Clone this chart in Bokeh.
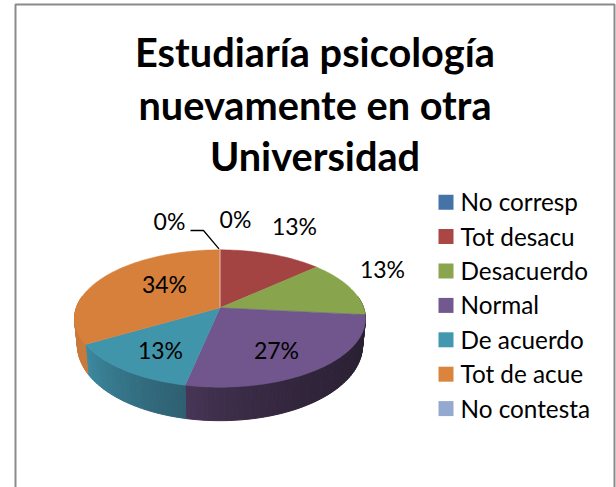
from math import cos, sin, pi
from bokeh.plotting import figure, ColumnDataSource
from bokeh.models import Range1d
from bokeh.core.properties import value
from bokeh.embed import file_html
from bokeh.resources import INLINE

# ---- data ----
title_lines = ["Estudiaría psicología", "nuevamente en otra", "Universidad"]
categories = ["No corresp", "Tot desacu", "Desacuerdo", "Normal", "De acuerdo", "Tot de acue", "No contesta"]
values = [0, 13.3, 13.3, 26.7, 13.3, 33.4, 0]
labels = ["0%", "13%", "13%", "27%", "13%", "34%", "0%"]

# ---- style ----
legend_colors = ["#4572A7", "#AA4643", "#89A54E", "#71588F", "#4198AF", "#DB843D", "#93A9CF"]
top_colors = ["#4572A7", "#A34342", "#88A44D", "#70568C", "#4095AB", "#D6803C", "#93A9CF"]
side_left = ["#33557C", "#7E3432", "#5F7336", "#4A3759", "#3D8DA4", "#C9793A", "#6C7E9A"]
side_right = ["#33557C", "#7E3432", "#46552A", "#2A2033", "#2E5F70", "#C9793A", "#6C7E9A"]
FONT = "Lato"
label_x = [235, 294, 382, 276, 160, 164, 169]
label_y = [218.5, 225.5, 268.5, 349.5, 349.5, 283.5, 220.5]

# ---- projection of the tilted disc, in page pixels ----
CX, CY, KX, KY, PERS = 219.5, 307.3, 143.7, 67.0, 0.156


def top_pt(deg):
    u, v = sin(deg * pi / 180), cos(deg * pi / 180)
    d = 1 + PERS * v
    return CX + KX * u / d, CY - KY * v / d


def bottom_pt(deg):
    u, v = sin(deg * pi / 180), cos(deg * pi / 180)
    d = 1 + PERS * v
    return CX + 0.98 * KX * u / d, CY - KY * v / d + (25.5 - 8 * v)


def hex_mix(a, b, t):
    ca = [int(a[i:i + 2], 16) for i in (1, 3, 5)]
    cb = [int(b[i:i + 2], 16) for i in (1, 3, 5)]
    return "#%02x%02x%02x" % tuple(round(x + (y - x) * t) for x, y in zip(ca, cb))


total = sum(values)
bounds = [0.0]
for val in values:
    bounds.append(bounds[-1] + val / total * 360)

p = figure(width=616, height=487, output_backend="svg", toolbar_location=None,
           x_range=Range1d(0, 616), y_range=Range1d(487, 0),
           min_border=0, min_border_left=0, min_border_right=0, min_border_top=0, min_border_bottom=0)
p.axis.visible = False
p.xgrid.visible = False
p.ygrid.visible = False
p.outline_line_color = None
p.background_fill_color = "white"

# frame of the picture
p.line([15, 15, 614, 614], [487, 4, 4, 487], line_color="#8A8A8A", line_width=2)

# side wall (only the front half of the disc shows it)
sx, sy, sc = [], [], []
for i, val in enumerate(values):
    a0, a1 = max(bounds[i], 80), min(bounds[i + 1], 280)
    if val == 0 or a1 <= a0:
        continue
    n = max(2, int((a1 - a0) / 1.5))
    xmin = min(top_pt(a0 + (a1 - a0) * k / n)[0] for k in range(n + 1))
    xmax = max(top_pt(a0 + (a1 - a0) * k / n)[0] for k in range(n + 1))
    for k in range(n):
        b0 = a0 + (a1 - a0) * k / n
        b1 = a0 + (a1 - a0) * (k + 1) / n
        t0, t1, q0, q1 = top_pt(b0), top_pt(b1), bottom_pt(b0), bottom_pt(b1)
        sx.append([t0[0], t1[0], q1[0], q0[0]])
        sy.append([t0[1], t1[1], q1[1], q0[1]])
        frac = ((t0[0] + t1[0]) / 2 - xmin) / max(xmax - xmin, 1)
        sc.append(hex_mix(side_left[i], side_right[i], frac ** 0.6))
p.patches("x", "y", source=ColumnDataSource(dict(x=sx, y=sy, c=sc)),
          fill_color="c", line_color="c", line_width=1)

# top of the disc
tx, ty, tc = [], [], []
for i, val in enumerate(values):
    if val == 0:
        continue
    a0, a1 = bounds[i], bounds[i + 1]
    n = max(2, int((a1 - a0) / 1.5))
    pts = [top_pt(a0 + (a1 - a0) * k / n) for k in range(n + 1)]
    tx.append([CX] + [q[0] for q in pts])
    ty.append([CY] + [q[1] for q in pts])
    tc.append(top_colors[i])
p.patches("x", "y", source=ColumnDataSource(dict(x=tx, y=ty, c=tc)),
          fill_color="c", line_color="c", line_width=0.5)

# the two empty slices leave a pale seam at the top
top_edge = top_pt(0)
p.line([CX, top_edge[0]], [CY, top_edge[1]], line_color="#E0B8B8", line_width=1)

# leader of the first 0% label
p.line([190, 203, top_edge[0] - 1], [230, 230, top_edge[1] - 1], line_color="black", line_width=1.3)

# percent labels
p.text(label_x, label_y, text=labels, text_font=value(FONT), text_font_size="23px",
       text_color="black", text_align="center", text_baseline="middle")

# title
p.text([314.5, 314.5, 314.5], [51, 103.5, 155], text=title_lines, text_font=value(FONT),
       text_font_size="39.7px", text_font_style="bold", text_color="black",
       text_align="center", text_baseline="middle")

# legend
ly = [201.7 + 34.4 * i for i in range(len(categories))]
p.rect([445.5] * len(categories), ly, width=15, height=15, fill_color=legend_colors, line_color=None)
p.text([460] * len(categories), [y - 0.5 for y in ly], text=categories, text_font=value(FONT),
       text_font_size="24.3px", text_color="black", text_align="left", text_baseline="middle")

open("out.html", "w").write(file_html(p, INLINE))
